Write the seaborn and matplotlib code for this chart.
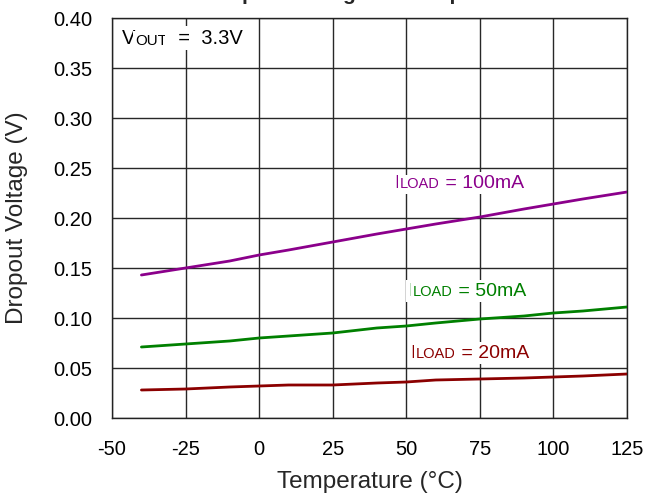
import numpy as np
import pandas as pd
import matplotlib
matplotlib.use("Agg")
import matplotlib.pyplot as plt
import seaborn as sns

# ---- data ----
temps = [-40, -25, -10, 0, 10, 25, 40, 50, 60, 75, 90, 100, 110, 125]
vdrop_100ma = [0.143, 0.150, 0.157, 0.163, 0.168, 0.176, 0.184, 0.189, 0.194, 0.201, 0.209, 0.214, 0.219, 0.226]
vdrop_50ma = [0.071, 0.074, 0.077, 0.080, 0.082, 0.085, 0.090, 0.092, 0.095, 0.099, 0.102, 0.105, 0.107, 0.111]
vdrop_20ma = [0.028, 0.029, 0.031, 0.032, 0.033, 0.033, 0.035, 0.036, 0.038, 0.039, 0.040, 0.041, 0.042, 0.044]

series_names = ["100mA", "50mA", "20mA"]
series_colors = {"100mA": "#8B008B", "50mA": "#008000", "20mA": "#8B0000"}
x_ticks = [-50, -25, 0, 25, 50, 75, 100, 125]
y_ticks = [0.00, 0.05, 0.10, 0.15, 0.20, 0.25, 0.30, 0.35, 0.40]

# label anchor (temperature, voltage) for each curve label
label_pos = {"100mA": (46, 0.235), "50mA": (50.5, 0.127), "20mA": (51.5, 0.065)}

df = pd.DataFrame({
    "temp": temps * 3,
    "vdrop": vdrop_100ma + vdrop_50ma + vdrop_20ma,
    "load": [n for n in series_names for _ in temps],
})

sns.set_style("white")
plt.rcParams["font.family"] = ["Liberation Sans", "DejaVu Sans"]
plt.rcParams["axes.unicode_minus"] = False

fig = plt.figure(figsize=(6.45, 4.96), dpi=100)
ax = fig.add_axes([112 / 645, 78 / 496, 515 / 645, 400 / 496])

sns.lineplot(data=df, x="temp", y="vdrop", hue="load", palette=series_colors,
             linewidth=2.0, legend=False, ax=ax, zorder=3)

ax.set_xlim(-50, 125)
ax.set_ylim(0, 0.40)
ax.set_xticks(x_ticks)
ax.set_xticklabels([str(t) for t in x_ticks])
ax.set_yticks(y_ticks)
ax.set_yticklabels([f"{v:.2f}" for v in y_ticks])
ax.tick_params(direction="in", length=5, width=1, labelsize=14.5, colors="black")
ax.tick_params(axis="x", pad=16)
ax.tick_params(axis="y", pad=14)
ax.grid(True, color="#282828", linewidth=1.0)
ax.set_axisbelow(True)
for s in ax.spines.values():
    s.set_color("#222222")
    s.set_linewidth(1.0)

ax.set_xlabel("Temperature (°C)", fontsize=17.5)
ax.set_ylabel("Dropout Voltage (V)", fontsize=17.5)
ax.xaxis.set_label_coords(0.5, -0.132)
ax.yaxis.set_label_coords(-0.163, 0.5)

fig.text(0.5735, 1.0, "Dropout Voltage vs. Temperature", fontsize=15,
         fontweight="bold", ha="center", va="baseline")


def split_label(x, y, big, small, rest, color, coords="data", size=14):
    # big letter, small-caps style subscript, then the rest of the label
    box = dict(facecolor="white", edgecolor="none", pad=1.5)
    t1 = ax.annotate(big, xy=(x, y), xycoords=coords, fontsize=size, color=color,
                     va="center", ha="left", bbox=box, zorder=4)
    t2 = ax.annotate(small, xy=(1, 0), xycoords=t1, fontsize=size * 0.75, color=color,
                     va="bottom", ha="left", bbox=box, zorder=4)
    ax.annotate(rest, xy=(1, 0), xycoords=t2, fontsize=size, color=color,
                va="bottom", ha="left", bbox=box, zorder=4)


for name in series_names:
    tx, ty = label_pos[name]
    split_label(tx, ty, "I", "LOAD", " = " + name, series_colors[name])

split_label(0.019, 0.95, "V", "OUT", "  =  3.3V", "black", coords="axes fraction", size=14.5)

fig.savefig("out.png", dpi=100)
